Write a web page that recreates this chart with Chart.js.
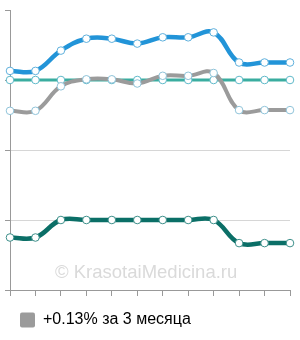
<!DOCTYPE html>
<html><head><meta charset="utf-8">
<script src="https://cdn.jsdelivr.net/npm/chart.js@4/dist/chart.umd.min.js"></script>
<style>html,body{margin:0;padding:0;background:#fff}#wrap{width:300px;height:340px}</style>
</head><body><div id="wrap"><canvas id="c" width="300" height="340"></canvas></div>
<script>
const categories = ['1','2','3','4','5','6','7','8','9','10','11','12'];
const blueValues = [3.13, 3.13, 3.42, 3.59, 3.59, 3.52, 3.61, 3.61, 3.68, 3.25, 3.25, 3.25];
const tealValues = [3.0, 3.0, 3.0, 3.0, 3.0, 3.0, 3.0, 3.0, 3.0, 3.0, 3.0, 3.0];
const grayValues = [2.56, 2.56, 2.91, 3.01, 3.01, 2.95, 3.06, 3.06, 3.10, 2.57, 2.57, 2.57];
const darkValues = [0.75, 0.75, 1.0, 1.0, 1.0, 1.0, 1.0, 1.0, 1.0, 0.67, 0.67, 0.67];
const legendLabel = '+0.13% за 3 месяца';
const watermark = '© KrasotaiMedicina.ru';

const watermarkPlugin = {
  id: 'wm',
  beforeDatasetsDraw(chart) {
    const ctx = chart.ctx;
    ctx.save();
    ctx.font = '18.5px "Liberation Sans", Arial, sans-serif';
    ctx.fillStyle = '#dadada';
    ctx.textBaseline = 'alphabetic';
    ctx.fillText(watermark, 55, 278);
    ctx.restore();
  }
};

function ds(label, data, color, width, pointBorder, show) {
  return {
    label, data,
    borderColor: color, backgroundColor: color,
    borderWidth: width, tension: 0.4,
    pointRadius: 3.8, pointBorderWidth: 1,
    pointBackgroundColor: '#fff', pointBorderColor: pointBorder,
    showInLegend: show
  };
}

new Chart(document.getElementById('c'), {
  type: 'line',
  data: {
    labels: categories,
    datasets: [
      ds(legendLabel, grayValues, '#9b9b9b', 4, '#8fc3d9', true),
      ds('teal', tealValues, '#3aada0', 3, '#5fb9c9', false),
      ds('blue', blueValues, '#2294d8', 4.5, '#5fb0dc', false),
      ds('dark', darkValues, '#0b6f67', 4.5, '#3d8f8a', false)
    ]
  },
  options: {
    responsive: false,
    animation: false,
    devicePixelRatio: 1,
    layout: { padding: { left: 10, right: 10, top: 10, bottom: 2 } },
    plugins: {
      tooltip: { enabled: false },
      legend: {
        position: 'bottom', align: 'start',
        labels: {
          boxWidth: 15, boxHeight: 15, padding: 10,
          color: '#333',
          font: { size: 16, family: '"Liberation Sans", Arial, sans-serif' },
          filter: (item, data) => data.datasets[item.datasetIndex].showInLegend,
          generateLabels: (chart) => [{
            text: legendLabel, fillStyle: '#9b9b9b', strokeStyle: '#9b9b9b',
            lineWidth: 0, borderRadius: 2, datasetIndex: 0, hidden: false
          }]
        }
      }
    },
    scales: {
      x: {
        offset: false,
        afterFit: s => { s.height = 12; },
        ticks: { display: false },
        grid: { drawOnChartArea: false, tickLength: 6, color: '#999', tickColor: '#999' },
        border: { color: '#999', width: 1 }
      },
      y: {
        min: 0, max: 4,
        afterFit: s => { s.width = 0; },
        ticks: { display: false, stepSize: 1 },
        grid: {
          tickLength: 5,
          color: ctx => (ctx.tick && ctx.tick.value === 4) ? 'rgba(0,0,0,0)' : '#d6d6d6',
          tickColor: '#999'
        },
        border: { color: '#999', width: 1 }
      }
    }
  },
  plugins: [watermarkPlugin]
});
</script></body></html>
